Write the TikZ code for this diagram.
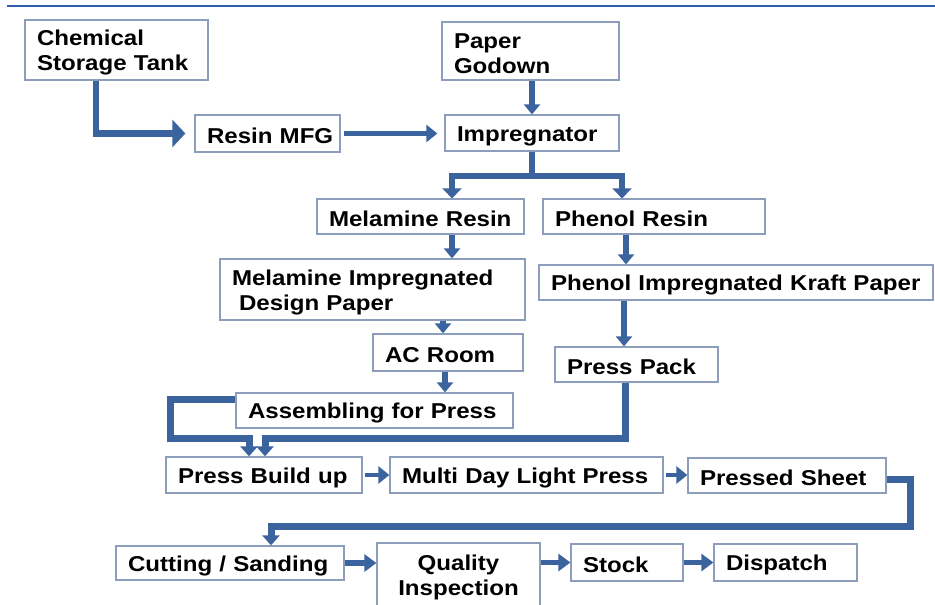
\documentclass[tikz,border=0pt]{standalone}
\usepackage{fontspec}
\setmainfont{Liberation Sans}[FakeStretch=1.12]
\usetikzlibrary{arrows.meta,calc}
\definecolor{flow}{RGB}{59,99,158}
\definecolor{edge}{RGB}{140,158,188}
\definecolor{rulecol}{RGB}{45,95,170}

\tikzset{
  box/.style={draw=edge, line width=1.3pt, fill=white, inner xsep=12pt, inner ysep=0pt,
    font=\bfseries\fontsize{21.5}{25}\selectfont, align=left, anchor=center},
  flowbig/.style={draw=flow, line width=6.5pt, -{Triangle[length=13pt,width=27pt]}},
  flowmid/.style={draw=flow, line width=6pt, -{Triangle[length=10pt,width=19pt]}},
  flowv/.style={draw=flow, line width=5.5pt, -{Triangle[length=10pt,width=16pt]}},
  flowthin/.style={draw=flow, line width=4.5pt, -{Triangle[length=11pt,width=17pt]}},
  flowbus/.style={draw=flow, line width=7pt, -{Triangle[length=10pt,width=17pt]}},
  flowbot/.style={draw=flow, line width=5.5pt, -{Triangle[length=12pt,width=17pt]}},
}

% box from its corners (x1,y1)-(x2,y2), text set left with 12pt padding;
% the strut on the first line lowers the text a little inside the box
\newcommand\flowbox[7][]{%
  \pgfmathsetmacro\fbw{#5-#3}%
  \pgfmathsetmacro\fbh{#6-#4}%
  \pgfmathsetmacro\fbt{#5-#3-24}%
  \node[box, minimum width=\fbw pt, minimum height=\fbh pt, text width=\fbt pt, #1]
    (#2) at ({(#3+#5)/2},{(#4+#6)/2}) {\rule{0pt}{21pt}#7};}

\begin{document}
\begin{tikzpicture}[x=1pt, y=-1pt]
\useasboundingbox[fill=white] (0,0) rectangle (935,605);

% heading rule
\draw[rulecol, line width=1.5pt] (7,6) -- (935,6);

% process steps
\flowbox{chem}{25}{20}{208}{80}{Chemical\\Storage~Tank}
\flowbox{paper}{442}{22}{619}{80}{Paper\\Godown}
\flowbox{resin}{195}{115}{340}{152}{Resin~MFG}
\flowbox{imp}{445}{115}{619}{151}{Impregnator}
\flowbox{melres}{317}{199}{524}{234}{Melamine~Resin}
\flowbox{phres}{543}{199}{765}{234}{Phenol~Resin}
\flowbox{midp}{220}{259}{525}{320}{Melamine~Impregnated\\\hspace*{7pt}Design~Paper}
\flowbox{phimp}{539}{265}{933}{300}{Phenol~Impregnated~Kraft~Paper}
\flowbox{ac}{373}{334}{523}{371}{AC~Room}
\flowbox{pack}{555}{347}{718}{382}{Press~Pack}
\flowbox{asm}{236}{393}{513}{428}{Assembling~for~Press}
\flowbox{build}{166}{457}{362}{493}{Press~Build~up}
\flowbox{multi}{390}{457}{663}{493}{Multi~Day~Light~Press}
\flowbox{pressed}{688}{458}{886}{493}{Pressed~Sheet}
\flowbox{cut}{116}{546}{344}{580}{Cutting~/~Sanding}
\flowbox[align=center]{qi}{377}{543}{540}{607}{Quality\\Inspection}
\flowbox{stock}{571}{544}{683}{581}{Stock}
\flowbox{dispatch}{714}{544}{857}{581}{Dispatch}

% connector guide positions
\coordinate (xa) at (96,0);
\coordinate (xb) at (452,0);
\coordinate (xc) at (622,0);
\coordinate (xd) at (626,0);
\coordinate (xf) at (443,0);
\coordinate (xg) at (624,0);
\coordinate (xh) at (445,0);
\coordinate (split) at (0,176);
\coordinate (busL) at (170,438);
\coordinate (dropL) at (249,438);
\coordinate (dropR) at (265,438);
\coordinate (xe) at (625,0);
\coordinate (busR) at (910,526);
\coordinate (dropC) at (271,526);

% upper flow
\draw[flowbig, shorten >=9pt] (chem.south -| xa) |- (resin.west);
\draw[flowthin, shorten <=3pt, shorten >=7pt] (resin.east) -- (resin.east -| imp.west);
\draw[flowv] (paper.south -| imp.north) -- (imp.north);
\draw[flowmid] (imp.south) -- (imp.south |- split) -| (melres.north -| xb);
\draw[flowmid] (imp.south) -- (imp.south |- split) -| (phres.north -| xc);

% melamine branch
\draw[flowv] (melres.south -| xb) -- (midp.north -| xb);
\draw[flowv] (midp.south -| xf) -- (ac.north -| xf);
\draw[flowv] (ac.south -| xh) -- (asm.north -| xh);

% phenol branch
\draw[flowv] (phres.south -| xd) -- (phimp.north -| xd);
\draw[flowv] (phimp.south -| xg) -- (pack.north -| xg);

% both branches into the press build up
\draw[flowbus] ([yshift=11.5pt]asm.west) -| (busL) -- (dropL) -- (dropL |- build.north);
\draw[flowbus] (pack.south -| xe) |- (dropR) -- (dropR |- build.north);

% press line
\draw[flowthin, shorten <=2pt] (build.east) -- (multi.west);
\draw[flowthin, shorten <=2pt] (multi.east) -- (multi.east -| pressed.west);
\draw[flowbus] ([yshift=-3.5pt]pressed.east) -| (busR) -- (dropC) -- (dropC |- cut.north);

% finishing line
\draw[flowbot] (cut.east) -- (cut.east -| qi.west);
\draw[flowbot] (qi.east |- stock.west) -- (stock.west);
\draw[flowbot] (stock.east) -- (dispatch.west);
\end{tikzpicture}
\end{document}
